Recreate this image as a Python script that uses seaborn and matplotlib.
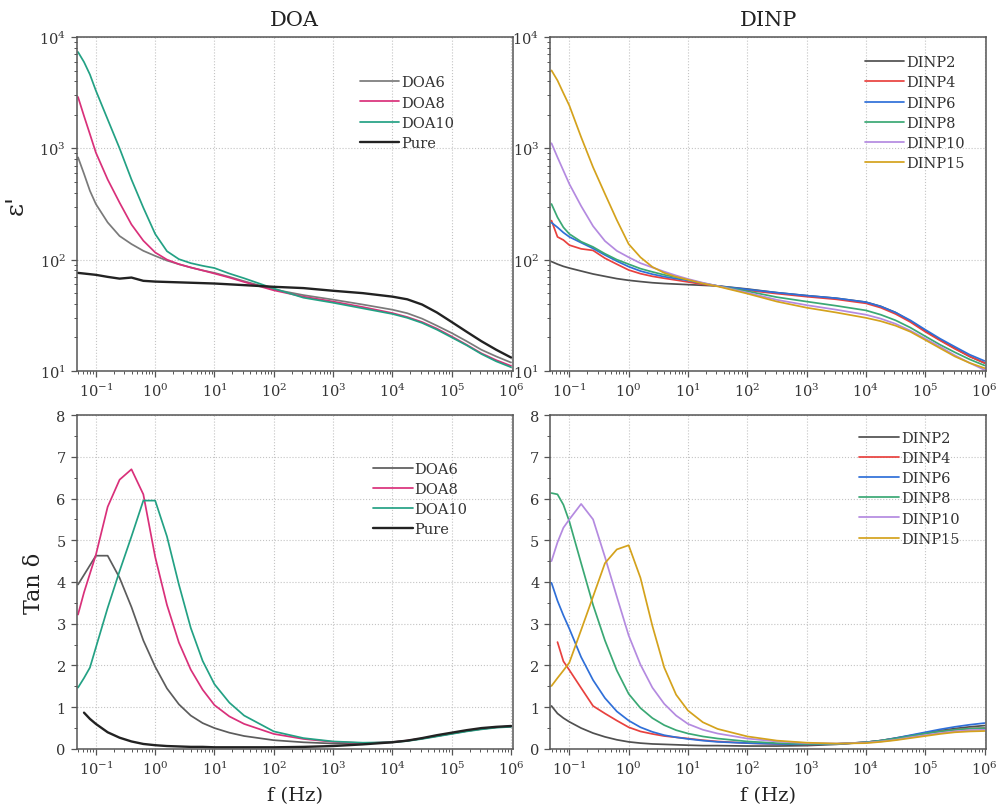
import numpy as np
import pandas as pd
import matplotlib
matplotlib.use("Agg")
import matplotlib.pyplot as plt
import seaborn as sns
from matplotlib.ticker import (LogLocator, AutoMinorLocator, MultipleLocator, NullFormatter,
                               FixedLocator, LogFormatterSciNotation)

# ---------------- data ----------------
FREQ = [0.05, 0.0631, 0.0794, 0.1, 0.158, 0.251, 0.398, 0.631, 1.0, 1.58, 2.51, 3.98,
        6.31, 10.0, 17.8, 31.6, 100.0, 316.0, 1000.0, 3160.0, 1.0e4, 1.78e4, 3.16e4,
        5.62e4, 1.0e5, 1.78e5, 3.16e5, 5.62e5, 1.0e6]
X_TICKS = [1e-1, 1e0, 1e1, 1e2, 1e3, 1e4, 1e5, 1e6]
Y_TICKS_LOG = [1e1, 1e2, 1e3, 1e4]

# permittivity eps' -- DOA
DOA6_E = [830, 590, 415, 316, 216, 163, 138, 120, 108, 98, 91, 85, 80, 76, 70, 64, 54,
          48, 43.7, 39.5, 35.5, 33, 29.5, 25.5, 21.9, 18.5, 15.5, 13.5, 11.9]
DOA8_E = [2890, 1950, 1340, 915, 525, 325, 207, 148, 116, 100, 91, 85, 80, 75, 69, 63, 53,
          46.5, 42, 37.5, 33.1, 30.5, 27.5, 24, 20.4, 17.2, 14.4, 12.5, 11.1]
DOA10_E = [7330, 5960, 4600, 3300, 1820, 1000, 525, 293, 170, 119, 101, 93, 88, 84, 75, 68, 55,
           45.5, 41, 36.5, 32.5, 30, 27, 23.5, 20, 17, 14.2, 12.2, 10.8]
PURE_E = [76, 75, 74, 73, 70, 67.5, 69, 64.5, 63.5, 63, 62.5, 62, 61.5, 61, 60, 59, 57,
          55.5, 52.5, 50, 46.5, 44, 39.5, 33.5, 27.5, 22.5, 18.5, 15.5, 13.2]

# permittivity eps' -- DINP
DINP2_E = [96, 91, 87, 84, 79, 74.3, 70.8, 67.5, 65.2, 63.5, 62, 61, 60.3, 59.6, 58.8, 58, 54.5,
           50.5, 47.5, 45, 41.5, 38, 33.5, 28, 23, 19, 16, 13.5, 11.8]
DINP4_E = [224, 160, 150, 135, 125, 121, 103, 91, 80.7, 74.8, 70.8, 68, 65.5, 63, 60, 58, 53,
           49.5, 46.5, 44, 40.5, 37, 32.5, 27.5, 22.5, 18.8, 15.8, 13.5, 11.8]
DINP6_E = [215, 195, 175, 160, 142, 126, 110, 97, 86.5, 79, 74, 70.3, 67.5, 65, 61, 58, 54,
           50.5, 47.5, 45, 41.5, 38, 33.5, 28.5, 23.5, 19.5, 16.5, 14, 12.3]
DINP8_E = [316, 240, 195, 170, 145, 130, 113, 100, 91, 83, 77.6, 73, 69.5, 66, 61.5, 58, 52,
           46, 42, 38.5, 35, 32, 28.5, 24.5, 20.5, 17.2, 14.7, 12.7, 11.2]
DINP10_E = [1110, 830, 630, 478, 303, 200, 147, 120, 105, 93, 85, 78, 72, 67, 62, 58, 50.5,
            43.5, 39, 35.5, 32, 29.5, 26.5, 23, 19.5, 16.5, 13.8, 11.8, 10.2]
DINP15_E = [5010, 4070, 3130, 2420, 1260, 676, 390, 227, 138, 105, 86, 76, 70, 66, 61, 57.5, 49.5,
            42, 37, 33.5, 30, 28, 25.5, 22.5, 19, 16, 13.5, 11.8, 10.6]

# loss tangent -- DOA
DOA6_T = [3.94, 4.17, 4.40, 4.63, 4.63, 4.1, 3.4, 2.6, 1.97, 1.45, 1.07, 0.8, 0.62, 0.5, 0.39,
          0.31, 0.21, 0.16, 0.13, 0.13, 0.17, 0.2, 0.25, 0.31, 0.37, 0.43, 0.48, 0.52, 0.54]
DOA8_T = [3.22, 3.75, 4.2, 4.65, 5.8, 6.45, 6.70, 6.1, 4.6, 3.45, 2.55, 1.9, 1.42, 1.05, 0.78,
          0.6, 0.36, 0.24, 0.17, 0.14, 0.16, 0.2, 0.25, 0.31, 0.37, 0.43, 0.48, 0.52, 0.54]
DOA10_T = [1.47, 1.7, 1.95, 2.43, 3.38, 4.26, 5.09, 5.95, 5.95, 5.09, 3.94, 2.9, 2.11, 1.55, 1.11,
           0.8, 0.42, 0.26, 0.18, 0.15, 0.16, 0.19, 0.24, 0.3, 0.36, 0.42, 0.47, 0.51, 0.53]
PURE_T = [np.nan, 0.87, 0.72, 0.6, 0.4, 0.27, 0.18, 0.12, 0.09, 0.07, 0.06, 0.05, 0.05, 0.04, 0.04,
          0.04, 0.04, 0.05, 0.07, 0.11, 0.16, 0.2, 0.26, 0.33, 0.39, 0.45, 0.5, 0.53, 0.55]

# loss tangent -- DINP
DINP2_T = [1.03, 0.85, 0.74, 0.65, 0.5, 0.38, 0.29, 0.22, 0.17, 0.14, 0.12, 0.11, 0.1, 0.09, 0.08,
           0.08, 0.07, 0.07, 0.08, 0.11, 0.16, 0.2, 0.26, 0.32, 0.38, 0.44, 0.49, 0.53, 0.56]
DINP4_T = [np.nan, 2.56, 2.1, 1.89, 1.46, 1.03, 0.85, 0.68, 0.52, 0.42, 0.36, 0.31, 0.28, 0.25, 0.21,
           0.18, 0.14, 0.12, 0.11, 0.12, 0.16, 0.2, 0.25, 0.31, 0.37, 0.42, 0.46, 0.49, 0.5]
DINP6_T = [3.98, 3.55, 3.2, 2.88, 2.2, 1.65, 1.22, 0.9, 0.68, 0.52, 0.41, 0.33, 0.28, 0.24, 0.2,
           0.17, 0.14, 0.12, 0.11, 0.12, 0.16, 0.2, 0.26, 0.33, 0.4, 0.47, 0.53, 0.58, 0.62]
DINP8_T = [6.13, 6.1, 5.85, 5.45, 4.45, 3.45, 2.6, 1.88, 1.32, 0.98, 0.74, 0.57, 0.45, 0.37, 0.3,
           0.25, 0.18, 0.14, 0.12, 0.12, 0.16, 0.2, 0.25, 0.31, 0.37, 0.42, 0.46, 0.49, 0.5]
DINP10_T = [4.5, 4.95, 5.3, 5.5, 5.87, 5.5, 4.6, 3.65, 2.72, 2.02, 1.47, 1.08, 0.8, 0.6, 0.46,
            0.37, 0.25, 0.18, 0.14, 0.13, 0.15, 0.18, 0.22, 0.28, 0.33, 0.38, 0.42, 0.45, 0.46]
DINP15_T = [1.51, 1.7, 1.88, 2.07, 2.85, 3.65, 4.45, 4.78, 4.88, 4.1, 2.95, 1.95, 1.3, 0.92, 0.64,
            0.48, 0.3, 0.2, 0.15, 0.13, 0.14, 0.17, 0.21, 0.26, 0.31, 0.36, 0.4, 0.42, 0.43]

DOA_NAMES = ["DOA6", "DOA8", "DOA10", "Pure"]
DINP_NAMES = ["DINP2", "DINP4", "DINP6", "DINP8", "DINP10", "DINP15"]

# ---------------- style ----------------
sns.set_theme(style="ticks")
plt.rcParams["font.family"] = ["DejaVu Serif"]
plt.rcParams["mathtext.fontset"] = "dejavuserif"

DOA_COLORS = {"DOA6": "#7a7a7a", "DOA8": "#d9307a", "DOA10": "#23a184", "Pure": "#222222"}
DOA_COLORS_T = {"DOA6": "#5c5c5c", "DOA8": "#d9307a", "DOA10": "#23a184", "Pure": "#222222"}
DINP_COLORS = {"DINP2": "#505050", "DINP4": "#e8413e", "DINP6": "#2f6fd8",
               "DINP8": "#3aa874", "DINP10": "#b48ae0", "DINP15": "#d4a21c"}
LW = {"Pure": 1.7}

fig, axes = plt.subplots(2, 2, figsize=(9.97, 8.12), dpi=100)
fig.subplots_adjust(left=0.0772, right=0.989, top=0.9532, bottom=0.0764,
                    wspace=0.087, hspace=0.132)


def tidy(names, arrays):
    rows = []
    for n, arr in zip(names, arrays):
        for f, v in zip(FREQ, arr):
            rows.append({"f": f, "v": v, "s": n})
    return pd.DataFrame(rows)


def draw(ax, df, names, colors):
    for n in names:
        sub = df[df["s"] == n].dropna()
        sns.lineplot(data=sub, x="f", y="v", ax=ax, color=colors[n], label=n,
                     lw=LW.get(n, 1.25), estimator=None, sort=False)


panels = [
    (axes[0, 0], tidy(DOA_NAMES, [DOA6_E, DOA8_E, DOA10_E, PURE_E]), DOA_NAMES, DOA_COLORS, "log", (0.65, 0.885)),
    (axes[0, 1], tidy(DINP_NAMES, [DINP2_E, DINP4_E, DINP6_E, DINP8_E, DINP10_E, DINP15_E]), DINP_NAMES, DINP_COLORS, "log", (0.722, 0.945)),
    (axes[1, 0], tidy(DOA_NAMES, [DOA6_T, DOA8_T, DOA10_T, PURE_T]), DOA_NAMES, DOA_COLORS_T, "lin", (0.68, 0.86)),
    (axes[1, 1], tidy(DINP_NAMES, [DINP2_T, DINP4_T, DINP6_T, DINP8_T, DINP10_T, DINP15_T]), DINP_NAMES, DINP_COLORS, "lin", (0.709, 0.952)),
]

for ax, df, names, colors, ys, anchor in panels:
    draw(ax, df, names, colors)
    ax.set_xscale("log")
    ax.set_xlim(0.048, 1.06e6)
    ax.xaxis.set_major_locator(FixedLocator(X_TICKS))
    ax.xaxis.set_major_formatter(LogFormatterSciNotation(base=10))
    ax.xaxis.set_minor_locator(LogLocator(base=10, subs=np.arange(2, 10), numticks=40))
    ax.xaxis.set_minor_formatter(NullFormatter())
    if ys == "log":
        ax.set_yscale("log")
        ax.set_ylim(10, 1e4)
        ax.yaxis.set_major_locator(FixedLocator(Y_TICKS_LOG))
        ax.yaxis.set_major_formatter(LogFormatterSciNotation(base=10))
        ax.yaxis.set_minor_locator(LogLocator(base=10, subs=np.arange(2, 10), numticks=40))
        ax.yaxis.set_minor_formatter(NullFormatter())
    else:
        ax.set_ylim(0, 8)
        ax.yaxis.set_major_locator(MultipleLocator(1))
        ax.yaxis.set_minor_locator(AutoMinorLocator(2))
    ax.grid(True, which="major", ls=":", lw=0.8, color="#c4c4c4")
    for sp in ax.spines.values():
        sp.set_visible(True)
        sp.set_color("#555555")
        sp.set_linewidth(1.1)
    ax.tick_params(which="major", length=4, width=0.9, color="#555555",
                   labelsize=10.5, labelcolor="#333333", pad=4)
    ax.tick_params(which="minor", length=2.2, width=0.7, color="#555555")
    ax.set_xlabel("")
    ax.set_ylabel("")
    leg = ax.legend(loc="upper left", bbox_to_anchor=anchor, frameon=False,
                    fontsize=10.5, handlelength=2.7, handletextpad=0.15,
                    labelspacing=0.42, borderaxespad=0, borderpad=0)
    for t in leg.get_texts():
        t.set_color("#333333")

axes[0, 0].set_title("DOA", fontsize=15, color="#222222", pad=9)
axes[0, 1].set_title("DINP", fontsize=15, color="#222222", pad=9)
axes[0, 0].set_ylabel("ε'", fontsize=18, color="#222222", labelpad=8)
axes[1, 0].set_ylabel("Tan δ", fontsize=16, color="#222222", labelpad=8)
axes[1, 0].set_xlabel("f (Hz)", fontsize=14, color="#222222", labelpad=6)
axes[1, 1].set_xlabel("f (Hz)", fontsize=14, color="#222222", labelpad=6)

fig.savefig("out.png", dpi=100, facecolor="white")
